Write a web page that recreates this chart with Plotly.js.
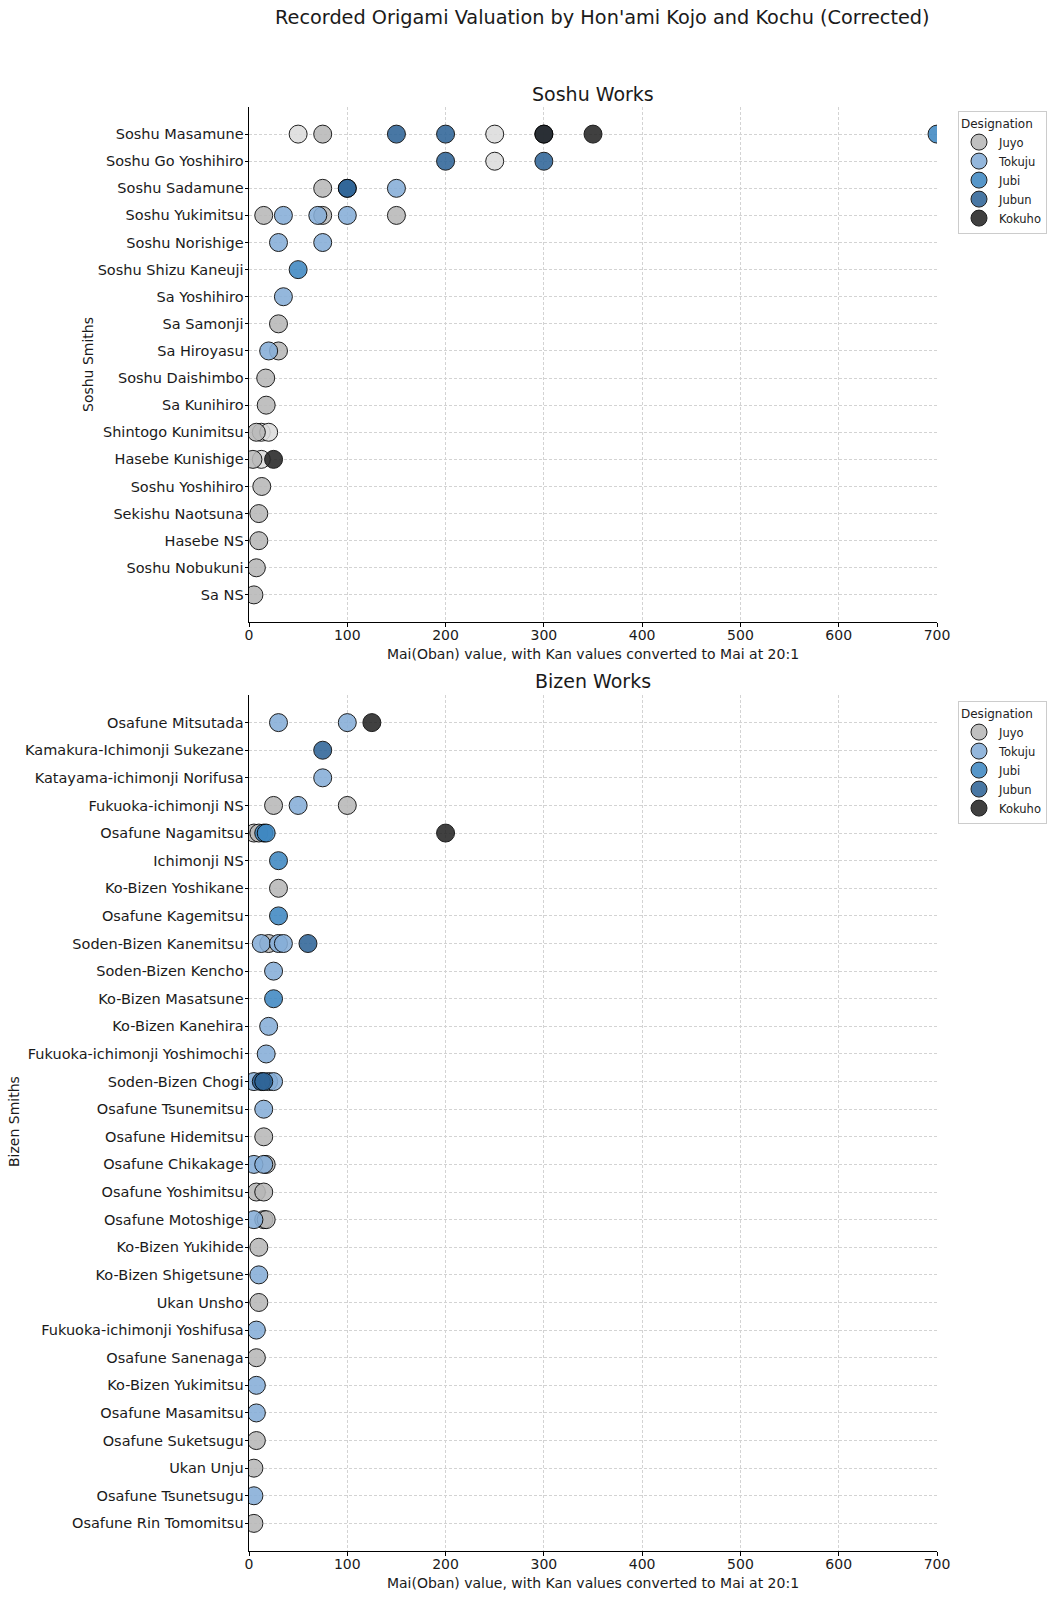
<!DOCTYPE html>
<html>
<head>
<meta charset="utf-8">
<script src="https://cdn.plot.ly/plotly-3.0.1.min.js"></script>
<style>html,body{margin:0;padding:0;background:#fff;}</style>
</head>
<body>
<div id="chart" style="width:1053px;height:1600px;"></div>
<script>
// ---------- categories ----------
const designations = ["Juyo", "Tokuju", "Jubi", "Jubun", "Kokuho"];
const designationColors = ["#b8b8b8", "#86aed8", "#3f88c2", "#2f6598", "#262626"];
const otherColor = "#dcdcdc";

const soshuSmiths = ["Soshu Masamune", "Soshu Go Yoshihiro", "Soshu Sadamune", "Soshu Yukimitsu",
  "Soshu Norishige", "Soshu Shizu Kaneuji", "Sa Yoshihiro", "Sa Samonji", "Sa Hiroyasu",
  "Soshu Daishimbo", "Sa Kunihiro", "Shintogo Kunimitsu", "Hasebe Kunishige", "Soshu Yoshihiro",
  "Sekishu Naotsuna", "Hasebe NS", "Soshu Nobukuni", "Sa NS"];

const bizenSmiths = ["Osafune Mitsutada", "Kamakura-Ichimonji Sukezane", "Katayama-ichimonji Norifusa",
  "Fukuoka-ichimonji NS", "Osafune Nagamitsu", "Ichimonji NS", "Ko-Bizen Yoshikane", "Osafune Kagemitsu",
  "Soden-Bizen Kanemitsu", "Soden-Bizen Kencho", "Ko-Bizen Masatsune", "Ko-Bizen Kanehira",
  "Fukuoka-ichimonji Yoshimochi", "Soden-Bizen Chogi", "Osafune Tsunemitsu", "Osafune Hidemitsu",
  "Osafune Chikakage", "Osafune Yoshimitsu", "Osafune Motoshige", "Ko-Bizen Yukihide",
  "Ko-Bizen Shigetsune", "Ukan Unsho", "Fukuoka-ichimonji Yoshifusa", "Osafune Sanenaga",
  "Ko-Bizen Yukimitsu", "Osafune Masamitsu", "Osafune Suketsugu", "Ukan Unju",
  "Osafune Tsunetsugu", "Osafune Rin Tomomitsu"];

// ---------- Soshu points ----------
const soshuSmith = [
  "Soshu Masamune","Soshu Masamune","Soshu Masamune","Soshu Masamune","Soshu Masamune","Soshu Masamune","Soshu Masamune","Soshu Masamune","Soshu Masamune",
  "Soshu Go Yoshihiro","Soshu Go Yoshihiro","Soshu Go Yoshihiro",
  "Soshu Sadamune","Soshu Sadamune","Soshu Sadamune","Soshu Sadamune",
  "Soshu Yukimitsu","Soshu Yukimitsu","Soshu Yukimitsu","Soshu Yukimitsu","Soshu Yukimitsu","Soshu Yukimitsu",
  "Soshu Norishige","Soshu Norishige",
  "Soshu Shizu Kaneuji",
  "Sa Yoshihiro",
  "Sa Samonji",
  "Sa Hiroyasu","Sa Hiroyasu",
  "Soshu Daishimbo",
  "Sa Kunihiro",
  "Shintogo Kunimitsu","Shintogo Kunimitsu","Shintogo Kunimitsu",
  "Hasebe Kunishige","Hasebe Kunishige","Hasebe Kunishige",
  "Soshu Yoshihiro",
  "Sekishu Naotsuna",
  "Hasebe NS",
  "Soshu Nobukuni",
  "Sa NS"];
const soshuValue = [
  50, 75, 150, 200, 250, 300, 300, 350, 700,
  200, 250, 300,
  75, 100, 100, 150,
  15, 35, 75, 70, 100, 150,
  30, 75,
  50,
  35,
  30,
  20, 30,
  17,
  17.5,
  7.5, 12.5, 20,
  4, 12.5, 25,
  13,
  10,
  10,
  7.5,
  5];
const soshuGrade = [
  "Other","Juyo","Jubun","Jubun","Other","Jubun","Kokuho","Kokuho","Jubi",
  "Jubun","Other","Jubun",
  "Juyo","Jubun","Jubun","Tokuju",
  "Juyo","Tokuju","Juyo","Tokuju","Tokuju","Juyo",
  "Tokuju","Tokuju",
  "Jubi",
  "Tokuju",
  "Juyo",
  "Tokuju","Juyo",
  "Juyo",
  "Juyo",
  "Juyo","Other","Other",
  "Juyo","Other","Kokuho",
  "Juyo",
  "Juyo",
  "Juyo",
  "Juyo",
  "Juyo"];

// ---------- Bizen points ----------
const bizenSmith = [
  "Osafune Mitsutada","Osafune Mitsutada","Osafune Mitsutada",
  "Kamakura-Ichimonji Sukezane",
  "Katayama-ichimonji Norifusa",
  "Fukuoka-ichimonji NS","Fukuoka-ichimonji NS","Fukuoka-ichimonji NS",
  "Osafune Nagamitsu","Osafune Nagamitsu","Osafune Nagamitsu","Osafune Nagamitsu","Osafune Nagamitsu",
  "Ichimonji NS",
  "Ko-Bizen Yoshikane",
  "Osafune Kagemitsu",
  "Soden-Bizen Kanemitsu","Soden-Bizen Kanemitsu","Soden-Bizen Kanemitsu","Soden-Bizen Kanemitsu","Soden-Bizen Kanemitsu",
  "Soden-Bizen Kencho",
  "Ko-Bizen Masatsune",
  "Ko-Bizen Kanehira",
  "Fukuoka-ichimonji Yoshimochi",
  "Soden-Bizen Chogi","Soden-Bizen Chogi","Soden-Bizen Chogi","Soden-Bizen Chogi","Soden-Bizen Chogi",
  "Osafune Tsunemitsu",
  "Osafune Hidemitsu",
  "Osafune Chikakage","Osafune Chikakage","Osafune Chikakage",
  "Osafune Yoshimitsu","Osafune Yoshimitsu",
  "Osafune Motoshige","Osafune Motoshige","Osafune Motoshige",
  "Ko-Bizen Yukihide",
  "Ko-Bizen Shigetsune",
  "Ukan Unsho",
  "Fukuoka-ichimonji Yoshifusa",
  "Osafune Sanenaga",
  "Ko-Bizen Yukimitsu",
  "Osafune Masamitsu",
  "Osafune Suketsugu",
  "Ukan Unju",
  "Osafune Tsunetsugu",
  "Osafune Rin Tomomitsu"];
const bizenValue = [
  30, 100, 125,
  75,
  75,
  25, 50, 100,
  5, 10, 15, 17.5, 200,
  30,
  30,
  30,
  12.5, 30, 35, 20, 60,
  25,
  25,
  20,
  17.5,
  5, 20, 25, 12.5, 15,
  15,
  15,
  5, 15, 17.5,
  7.5, 15,
  5, 15, 17.5,
  10,
  10,
  10,
  7.5,
  7.5,
  7.5,
  7.5,
  7.5,
  5,
  5,
  5];
const bizenGrade = [
  "Tokuju","Tokuju","Kokuho",
  "Jubun",
  "Tokuju",
  "Juyo","Tokuju","Juyo",
  "Juyo","Juyo","Jubi","Jubi","Kokuho",
  "Jubi",
  "Juyo",
  "Jubi",
  "Tokuju","Tokuju","Tokuju","Juyo","Jubun",
  "Tokuju",
  "Jubi",
  "Tokuju",
  "Tokuju",
  "Tokuju","Tokuju","Tokuju","Jubun","Jubun",
  "Tokuju",
  "Juyo",
  "Tokuju","Tokuju","Juyo",
  "Juyo","Juyo",
  "Tokuju","Juyo","Juyo",
  "Juyo",
  "Tokuju",
  "Juyo",
  "Tokuju",
  "Juyo",
  "Tokuju",
  "Tokuju",
  "Juyo",
  "Juyo",
  "Tokuju",
  "Juyo"];

const xTickVals = [0, 100, 200, 300, 400, 500, 600, 700];
const xTitle = "Mai(Oban) value, with Kan values converted to Mai at 20:1";

// ---------- build traces ----------
function buildTraces(smith, value, grade, xa, ya, legendId) {
  const traces = [];
  const groups = ["Other"].concat(designations);
  groups.forEach(g => {
    const xs = [], ys = [];
    for (let i = 0; i < grade.length; i++) {
      if (grade[i] === g) { xs.push(value[i]); ys.push(smith[i]); }
    }
    const idx = designations.indexOf(g);
    const col = idx >= 0 ? designationColors[idx] : otherColor;
    traces.push({
      type: "scatter", mode: "markers",
      x: xs, y: ys, name: g,
      xaxis: xa, yaxis: ya,
      legend: legendId,
      showlegend: idx >= 0,
      marker: {size: 18, color: col, opacity: 0.88, line: {color: "#000", width: 1}},
      hoverinfo: "x+y+name"
    });
  });
  return traces;
}

const data = buildTraces(soshuSmith, soshuValue, soshuGrade, "x", "y", "legend")
  .concat(buildTraces(bizenSmith, bizenValue, bizenGrade, "x2", "y2", "legend2"));

// pixel helpers (layout geometry)
const L = 249, R = 937, T = 107, B = 1551;
const px = x => (x - L) / (R - L);
const py = y => (B - y) / (B - T);

const fontFam = "DejaVu Sans, sans-serif";
const gridStyle = {showgrid: true, gridcolor: "#d3d3d3", griddash: "3px,2px", gridwidth: 1, zeroline: false};
const xaxisBase = Object.assign({
  range: [0, 700], tickvals: xTickVals, ticks: "outside", ticklen: 3.5, tickcolor: "#000",
  ticklabelstandoff: -3,
  showline: true, linecolor: "#000", linewidth: 1,
  tickfont: {family: fontFam, size: 14, color: "#1a1a1a"},
  title: {text: xTitle, font: {family: fontFam, size: 14, color: "#1a1a1a"}, standoff: 6},
  fixedrange: true
}, gridStyle);
function yaxisBase(cats, dom) {
  return Object.assign({
    type: "category", categoryarray: cats, categoryorder: "array",
    range: [cats.length, -1], domain: dom,
    ticks: "outside", ticklen: 3.5, tickcolor: "#000",
    ticklabelstandoff: -2,
    showline: true, linecolor: "#000", linewidth: 1,
    tickfont: {family: fontFam, size: 14.5, color: "#1a1a1a"},
    fixedrange: true
  }, gridStyle);
}

const legendBase = {
  title: {text: "Designation", font: {family: fontFam, size: 12, color: "#222"}},
  font: {family: fontFam, size: 11.5, color: "#222"},
  bordercolor: "#cccccc", borderwidth: 1, bgcolor: "rgba(255,255,255,0.9)",
  xanchor: "left", yanchor: "top", tracegroupgap: 0, itemsizing: "trace", itemwidth: 30
};

const topDom = [py(622), 1];
const botDom = [0, py(695)];

const layout = {
  width: 1053, height: 1600,
  paper_bgcolor: "#fff", plot_bgcolor: "#fff",
  margin: {l: L, r: 1053 - R, t: T, b: 1600 - B, autoexpand: false},
  font: {family: fontFam},
  xaxis: Object.assign({}, xaxisBase, {anchor: "y"}),
  yaxis: yaxisBase(soshuSmiths, topDom),
  xaxis2: Object.assign({}, xaxisBase, {anchor: "y2"}),
  yaxis2: Object.assign(yaxisBase(bizenSmiths, botDom), {anchor: "x2"}),
  legend: Object.assign({}, legendBase, {x: px(958), y: py(111)}),
  legend2: Object.assign({}, legendBase, {x: px(958), y: py(701)}),
  annotations: [
    {text: "Recorded Origami Valuation by Hon'ami Kojo and Kochu (Corrected)", xref: "paper", yref: "paper",
     x: px(602), y: py(17), showarrow: false, xanchor: "center", yanchor: "middle",
     font: {family: fontFam, size: 19.3, color: "#1a1a1a"}},
    {text: "Soshu Works", xref: "paper", yref: "paper", x: 0.5, y: py(94), showarrow: false,
     xanchor: "center", yanchor: "middle", font: {family: fontFam, size: 19, color: "#1a1a1a"}},
    {text: "Bizen Works", xref: "paper", yref: "paper", x: 0.5, y: py(681), showarrow: false,
     xanchor: "center", yanchor: "middle", font: {family: fontFam, size: 19, color: "#1a1a1a"}},
    {text: "Soshu Smiths", xref: "paper", yref: "paper", x: px(88), y: py(365), showarrow: false,
     xanchor: "center", yanchor: "middle", textangle: -90, font: {family: fontFam, size: 14, color: "#1a1a1a"}},
    {text: "Bizen Smiths", xref: "paper", yref: "paper", x: px(14), y: py(1122), showarrow: false,
     xanchor: "center", yanchor: "middle", textangle: -90, font: {family: fontFam, size: 14, color: "#1a1a1a"}}
  ]
};

Plotly.newPlot("chart", data, layout, {displayModeBar: false, staticPlot: true});
</script>
</body>
</html>
